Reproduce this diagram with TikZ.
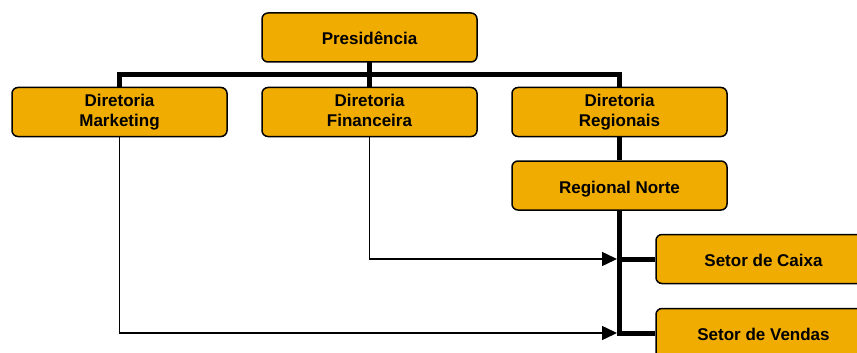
\documentclass[tikz,border=0pt]{standalone}
\usepackage{fontspec}
\setmainfont{Liberation Sans}
\usetikzlibrary{arrows.meta,calc}
\definecolor{boxfill}{RGB}{240,172,0}
\tikzset{
  orgbox/.style={draw=black, line width=1.5pt, fill=boxfill, rounded corners=6pt,
    minimum width=215pt, minimum height=49pt, inner sep=0pt, align=center,
    font=\fontsize{17}{20}\selectfont\bfseries},
  oneline/.style={text height=15pt, text depth=0pt},
  bus/.style={line width=5pt, line join=miter, line cap=butt},
  link/.style={line width=1.5pt, -{Triangle[length=15pt,width=14pt]}, shorten >=2.5pt}
}
\begin{document}
\begin{tikzpicture}[x=1pt,y=-1pt]
\useasboundingbox (0,0) rectangle (857,353);
\fill[white] (0,0) rectangle (857,353);
\clip (0,0) rectangle (857,353);
\coordinate (busL) at (119.5,74.5);
\coordinate (busR) at (619.5,74.5);
% connectors (behind boxes)
\draw[bus] (369.5,62) -- (369.5,87);
\draw[bus] (119.5,87) -- (busL) -- (busR) -- (619.5,87);
\node[orgbox,oneline] (pres) at (369.5,37.5) {Presidência};
\node[orgbox] (mkt) at (119.5,112) {Diretoria\\Marketing};
\node[orgbox] (fin) at (369.5,112) {Diretoria\\Financeira\vphantom{g}};
\node[orgbox] (reg) at (619.5,112) {Diretoria\\Regionais};
\node[orgbox,oneline] (norte) at (619.5,185.5) {Regional Norte};
\node[orgbox,oneline] (cai) at (763.5,259) {Setor de Caixa};
\node[orgbox,oneline] (ven) at (763.5,333) {Setor de Vendas};
\draw[bus] (reg.south) -- (norte.north);
\draw[bus] (norte.south) -- (norte.south |- ven.west) -- (ven.west);
\draw[bus] (norte.south |- cai.west) -- (cai.west);
\draw[link] (fin.south) |- ($(norte.south |- cai.west)$);
\draw[link] (mkt.south) |- ($(norte.south |- ven.west)$);
\end{tikzpicture}
\end{document}
